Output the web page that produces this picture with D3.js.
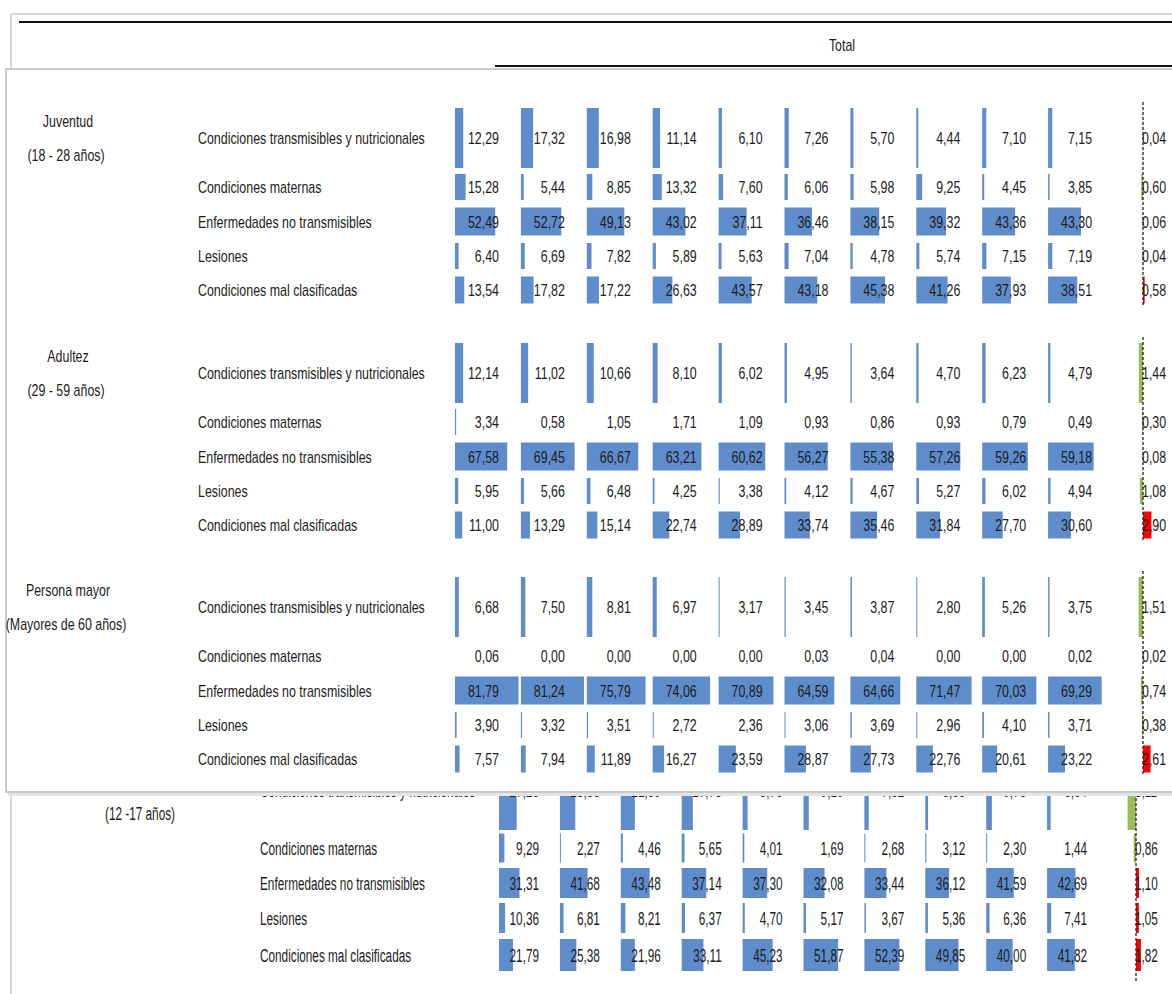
<!DOCTYPE html>
<html><head><meta charset="utf-8">
<script src="https://cdn.jsdelivr.net/npm/d3@7"></script>
<style>
body{margin:0;background:#fff;}
svg{display:block;}
text{font-family:"Liberation Sans",Arial,sans-serif;fill:#1c1c1c;}
</style>
</head><body><svg id="c" width="1172" height="994"></svg>
<script>
// ---------- DATA ----------
const headerLabel = "Total";
const causes = ["Condiciones transmisibles y nutricionales","Condiciones maternas","Enfermedades no transmisibles","Lesiones","Condiciones mal clasificadas"];
const groups = ["Juventud","Adultez","Persona mayor"];
const groupRanges = ["(18 - 28 años)","(29 - 59 años)","(Mayores de 60 años)"];
const juventudValues = [
  [12.29,17.32,16.98,11.14,6.10,7.26,5.70,4.44,7.10,7.15],
  [15.28,5.44,8.85,13.32,7.60,6.06,5.98,9.25,4.45,3.85],
  [52.49,52.72,49.13,43.02,37.11,36.46,38.15,39.32,43.36,43.30],
  [6.40,6.69,7.82,5.89,5.63,7.04,4.78,5.74,7.15,7.19],
  [13.54,17.82,17.22,26.63,43.57,43.18,45.38,41.26,37.93,38.51]
];
const adultezValues = [
  [12.14,11.02,10.66,8.10,6.02,4.95,3.64,4.70,6.23,4.79],
  [3.34,0.58,1.05,1.71,1.09,0.93,0.86,0.93,0.79,0.49],
  [67.58,69.45,66.67,63.21,60.62,56.27,55.38,57.26,59.26,59.18],
  [5.95,5.66,6.48,4.25,3.38,4.12,4.67,5.27,6.02,4.94],
  [11.00,13.29,15.14,22.74,28.89,33.74,35.46,31.84,27.70,30.60]
];
const mayorValues = [
  [6.68,7.50,8.81,6.97,3.17,3.45,3.87,2.80,5.26,3.75],
  [0.06,0.00,0.00,0.00,0.00,0.03,0.04,0.00,0.00,0.02],
  [81.79,81.24,75.79,74.06,70.89,64.59,64.66,71.47,70.03,69.29],
  [3.90,3.32,3.51,2.72,2.36,3.06,3.69,2.96,4.10,3.71],
  [7.57,7.94,11.89,16.27,23.59,28.87,27.73,22.76,20.61,23.22]
];
const juventudChange = [0.04,-0.60,-0.06,0.04,0.58];
const adultezChange = [-1.44,-0.30,-0.08,-1.08,2.90];
const mayorChange = [-1.51,0.02,-0.74,-0.38,2.61];
const adolescenciaRange = "(12 -17 años)";
const adolescenciaValues = [
  [27.25,23.86,21.89,17.73,8.76,9.19,7.82,5.55,9.75,6.64],
  [9.29,2.27,4.46,5.65,4.01,1.69,2.68,3.12,2.30,1.44],
  [31.31,41.68,43.48,37.14,37.30,32.08,33.44,36.12,41.59,42.69],
  [10.36,6.81,8.21,6.37,4.70,5.17,3.67,5.36,6.36,7.41],
  [21.79,25.38,21.96,33.11,45.23,51.87,52.39,49.85,40.00,41.82]
];
const adolescenciaChange = [-3.11,-0.86,1.10,1.05,1.82];

// ---------- DRAW ----------
const svg = d3.select("#c");
const BLUE = "#5f8dcc", GREEN = "#9bbb59", RED = "#ff0000";
const fmt = v => d3.format(".2f")(Math.abs(v)).replace(".", ",");

function txt(g, x, y, s, anchor, fs, sx) {
  return g.append("text")
    .attr("transform", `translate(${x},${y}) scale(${sx},1)`)
    .attr("text-anchor", anchor).attr("dy", "0.36em")
    .style("font-size", fs + "px").text(s);
}

function drawSection(g, values, change, L) {
  const cols = d3.scaleBand().domain(d3.range(values[0].length))
    .range([L.x0, L.x0 + L.pitch * values[0].length]);
  const w = d3.scaleLinear().domain(L.wDomain).range(L.wRange).clamp(true);
  const cw = d3.scaleLinear().domain([0, 1]).range([0, L.changeK]);
  values.forEach((row, r) => {
    const cy = L.y0 + L.rowOff[r];
    const h = L.barH[r];
    txt(g, L.labelX, cy + (L.textOff[r] || 0), causes[r], "start", L.fs, L.sx);
    row.forEach((v, i) => {
      const bw = w(v);
      if (bw >= 0.5) {
        g.append("rect").attr("x", cols(i)).attr("y", cy - h / 2)
          .attr("width", Math.max(1, bw)).attr("height", h).attr("fill", BLUE);
      }
      txt(g, cols(i) + L.textRight, cy + (L.textOff[r] || 0), fmt(v), "end", L.fs, L.sx);
    });
    const c = change[r];
    const cwid = cw(Math.abs(c));
    g.append("rect")
      .attr("x", c < 0 ? L.changeX - cwid : L.changeX)
      .attr("y", cy - h / 2).attr("width", cwid).attr("height", h)
      .attr("fill", c < 0 ? GREEN : RED);
    txt(g, L.changeX - 1, cy + (L.textOff[r] || 0), fmt(c), "start", L.fs, L.sx);
  });
  g.append("line").attr("x1", L.changeX).attr("x2", L.changeX)
    .attr("y1", L.y0 + L.lineTop).attr("y2", L.y0 + L.lineBottom)
    .attr("stroke", "#222").attr("stroke-width", 1.3).attr("stroke-dasharray", "3,2");
}

// ----- background sheet -----
const bg = svg.append("g");
bg.append("line").attr("x1", 11).attr("x2", 1172).attr("y1", 14).attr("y2", 14).attr("stroke", "#d6d6d6").attr("stroke-width", 2);
bg.append("line").attr("x1", 11).attr("x2", 11).attr("y1", 14).attr("y2", 994).attr("stroke", "#d6d6d6").attr("stroke-width", 2);
bg.append("line").attr("x1", 19).attr("x2", 1172).attr("y1", 22).attr("y2", 22).attr("stroke", "#111").attr("stroke-width", 2);
bg.append("line").attr("x1", 495).attr("x2", 1172).attr("y1", 66).attr("y2", 66).attr("stroke", "#111").attr("stroke-width", 2.2);
txt(bg, 842, 45, headerLabel, "middle", 17, 0.73);

const bgL = {
  x0: 499, pitch: 60.9, textRight: 40, y0: 798,
  rowOff: [0, 50, 85, 120, 157], barH: [64, 29, 30, 30, 32], textOff: [-8, 0, 0, 0, 0],
  fs: 19, sx: 0.62, labelX: 260, wDomain: [1.5, 52.39], wRange: [0, 35],
  changeX: 1136, changeK: 2.7, lineTop: -40, lineBottom: 184
};
drawSection(bg, adolescenciaValues, adolescenciaChange, bgL);
txt(bg, 140, 813, adolescenciaRange, "middle", 19, 0.62);

// ----- overlay panel -----
const ov = svg.append("g");
ov.append("rect").attr("x", 8).attr("y", 71).attr("width", 1180).attr("height", 725).attr("fill", "#e4e4e4");
ov.append("rect").attr("x", 6).attr("y", 69).attr("width", 1180).attr("height", 723)
  .attr("fill", "#fff").attr("stroke", "#c9c9c9").attr("stroke-width", 2);

const sectionY = [138, 373, 607];
const sectionVals = [juventudValues, adultezValues, mayorValues];
const sectionChg = [juventudChange, adultezChange, mayorChange];
sectionY.forEach((y0, s) => {
  const L = {
    x0: 455, pitch: 65.9, textRight: 44, y0: y0,
    rowOff: [0, 49, 83.5, 118, 152], barH: [60, 26, 28, 26, 27], textOff: [],
    fs: 17, sx: 0.73, labelX: 198, wDomain: [0, 81.79], wRange: [-1.5, 63.5],
    changeX: 1143, changeK: 2.9, lineTop: -36, lineBottom: 168
  };
  drawSection(ov, sectionVals[s], sectionChg[s], L);
  txt(ov, 68, y0 - 17, groups[s], "middle", 17, 0.73);
  txt(ov, 66, y0 + 17, groupRanges[s], "middle", 17, 0.73);
});
</script>
</body></html>
